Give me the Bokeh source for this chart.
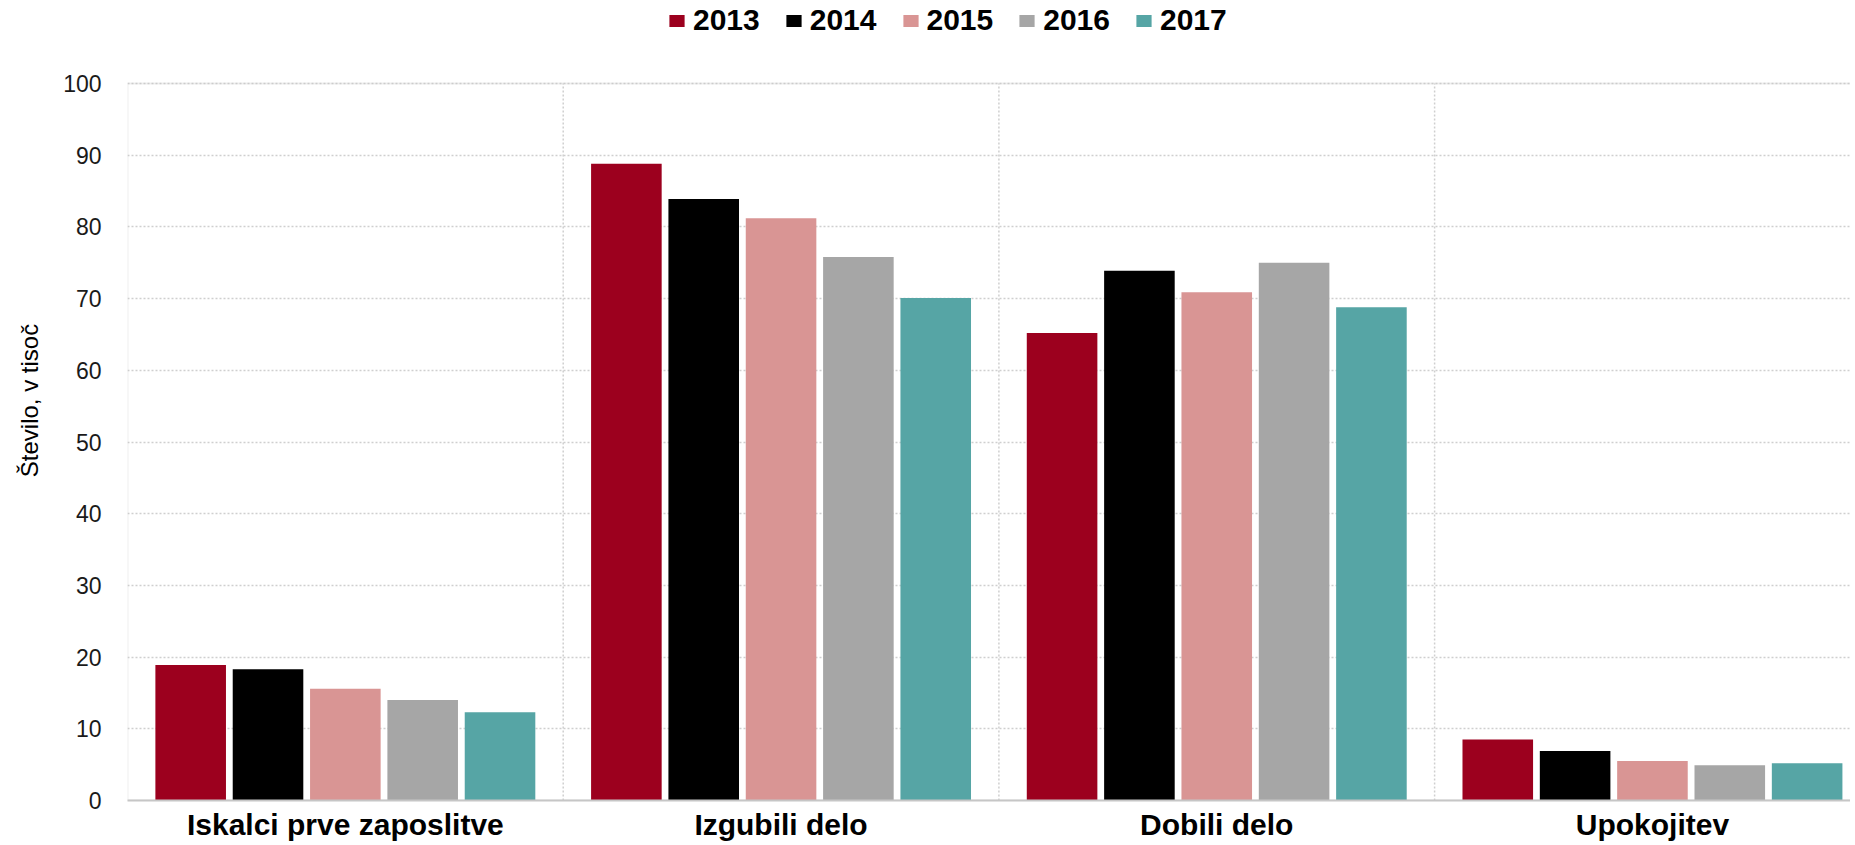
from bokeh.plotting import figure
from bokeh.models import (Range1d, FixedTicker, Legend, LegendItem, ColumnDataSource,
                          BoxAnnotation)
from bokeh.embed import file_html
from bokeh.resources import INLINE

# ---- data ----
categories = ["Iskalci prve zaposlitve", "Izgubili delo", "Dobili delo", "Upokojitev"]
years = ["2013", "2014", "2015", "2016", "2017"]
v2013 = [18.9, 88.8, 65.2, 8.5]
v2014 = [18.3, 83.9, 73.9, 6.9]
v2015 = [15.6, 81.2, 70.9, 5.5]
v2016 = [14.0, 75.8, 75.0, 4.9]
v2017 = [12.3, 70.1, 68.8, 5.2]
y_ticks = [0, 10, 20, 30, 40, 50, 60, 70, 80, 90, 100]
y_title = "Število, v tisoč"

series = [v2013, v2014, v2015, v2016, v2017]
colors = ["#9c001e", "#000000", "#d99594", "#a6a6a6", "#56a5a5"]

FONT = "Liberation Sans"
LEFT, BOTTOM = 127, 42
FRAME_W = 1723
PLOT_H = 717          # pixel height of the 0..100 plot area
TOP_PAD = 83          # pixels above the plot area (legend zone)
FRAME_H = PLOT_H + TOP_PAD
cat_px = 435.7
slot = 0.1775
bar_w = 0.162
y_max = y_ticks[-1]
x_start = -0.5

p = figure(frame_width=FRAME_W, frame_height=FRAME_H, output_backend="svg",
           toolbar_location=None,
           x_range=Range1d(x_start, x_start + FRAME_W / cat_px),
           y_range=Range1d(0, y_max * FRAME_H / PLOT_H),
           min_border_left=LEFT, min_border_right=0, min_border_top=0,
           min_border_bottom=BOTTOM)
p.outline_line_color = None
p.background_fill_color = "white"
p.border_fill_color = "white"

# category separators (dotted, from 0 to top of plot area)
seps = [b + 0.5 for b in range(len(categories) - 1)]
p.segment(x0=seps, y0=[0] * len(seps), x1=seps, y1=[y_max] * len(seps),
          line_color="#cfcfcf", line_dash="2 2", line_width=1.5)

items = []
n = len(series)
for j, (vals, col, yr) in enumerate(zip(series, colors, years)):
    xs = [i + (j - (n - 1) / 2) * slot for i in range(len(categories))]
    src = ColumnDataSource(dict(x=xs, top=vals))
    r = p.vbar(x="x", top="top", bottom=0, width=bar_w, source=src,
               fill_color=col, line_color=None)
    items.append(LegendItem(label=yr, renderers=[r]))

# plot-area border (left, top, bottom)
p.add_layout(BoxAnnotation(left=x_start, right=x_start + 10, bottom=0, top=y_max,
                           fill_alpha=0, line_color="#c6c6c6", line_width=2,
                           level="underlay"))

legend = Legend(items=items, orientation="horizontal",
                location=(540, FRAME_H - 37),
                label_text_font=FONT, label_text_font_style="bold",
                label_text_font_size="30px", label_text_color="black",
                glyph_width=19, glyph_height=15, label_standoff=7, spacing=24,
                padding=0, margin=0, border_line_color=None,
                background_fill_alpha=0)
p.add_layout(legend, "center")

# x axis
p.xaxis.ticker = FixedTicker(ticks=list(range(len(categories))))
p.xaxis.major_label_overrides = {i: c for i, c in enumerate(categories)}
p.xaxis.major_label_text_font = FONT
p.xaxis.major_label_text_font_style = "bold"
p.xaxis.major_label_text_font_size = "30px"
p.xaxis.major_label_text_color = "black"
p.xaxis.major_label_standoff = 1
p.xaxis.major_tick_line_color = None
p.xaxis.minor_tick_line_color = None
p.xaxis.axis_line_color = "#c6c6c6"
p.xaxis.axis_line_width = 2
p.xgrid.grid_line_color = None

# y axis
p.yaxis.ticker = FixedTicker(ticks=y_ticks)
p.yaxis.axis_label = y_title
p.yaxis.axis_label_text_font = FONT
p.yaxis.axis_label_text_font_style = "normal"
p.yaxis.axis_label_text_font_size = "24px"
p.yaxis.axis_label_text_color = "black"
p.yaxis.axis_label_standoff = 17
p.yaxis.major_label_text_font = FONT
p.yaxis.major_label_text_font_size = "23px"
p.yaxis.major_label_text_color = "#1a1a1a"
p.yaxis.major_label_standoff = 20
p.yaxis.major_tick_line_color = None
p.yaxis.minor_tick_line_color = None
p.yaxis.axis_line_color = None
p.ygrid.grid_line_color = "#cfcfcf"
p.ygrid.grid_line_dash = "2 2"
p.ygrid.grid_line_width = 1.5

open("out.html", "w").write(file_html(p, INLINE))
